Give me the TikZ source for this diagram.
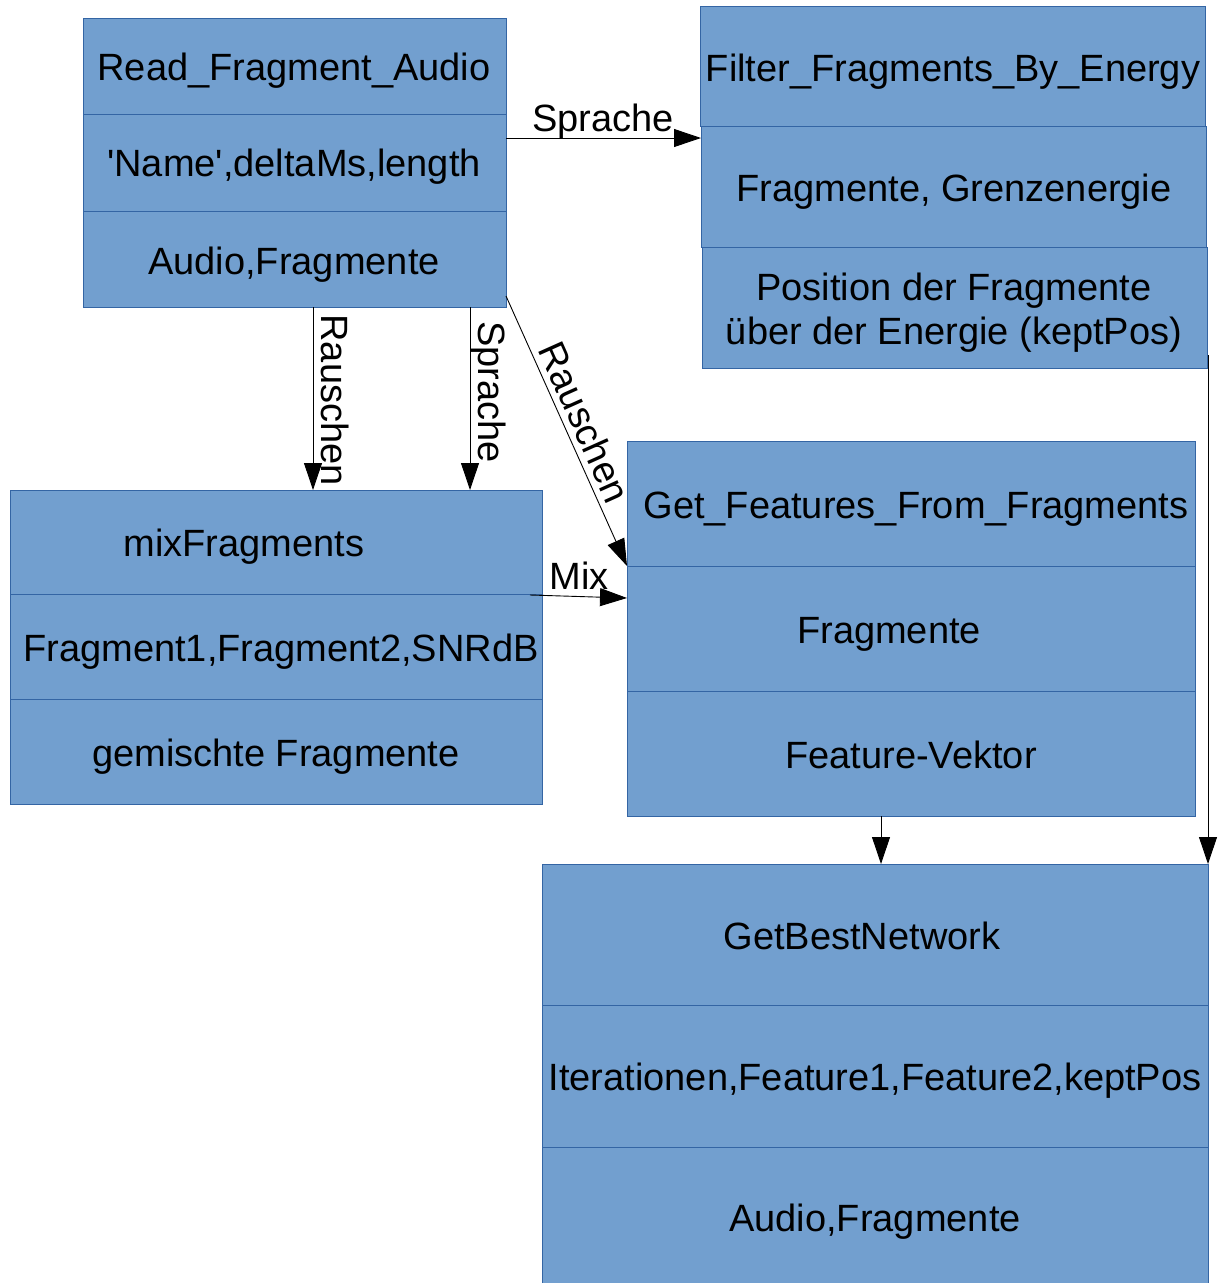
\documentclass[tikz,border=0pt]{standalone}
\usepackage{fontspec}
\setmainfont{Liberation Sans}
\usetikzlibrary{arrows.meta,calc}
\definecolor{boxfill}{HTML}{729FCF}
\definecolor{boxline}{HTML}{3465A4}
\begin{document}
\begin{tikzpicture}[x=1pt,y=-1pt,
  rowbox/.style={draw=boxline,fill=boxfill,line width=0.9pt,inner sep=0pt,outer sep=0pt,anchor=north west},
  lbl/.style={font=\fontsize{38}{44}\selectfont,inner sep=0pt,text height=27pt,text depth=0pt},
  lbltwo/.style={font=\fontsize{38}{44}\selectfont,inner sep=0pt,align=center},
  arr/.style={line width=0.9pt,-{Triangle[length=27pt,width=18pt]}}]
\useasboundingbox (0,0) rectangle (1221,1283);
\clip (0,0) rectangle (1221,1283);
% Box A
\node[rowbox,minimum width=423,minimum height=96] (a1) at (83,18) {};
\node[rowbox,minimum width=423,minimum height=97] (a2) at (83,114) {};
\node[rowbox,minimum width=423,minimum height=96] (a3) at (83,211) {};
% Box B
\node[rowbox,minimum width=505,minimum height=120] (b1) at (700,6) {};
\node[rowbox,minimum width=505,minimum height=121] (b2) at (701,126) {};
\node[rowbox,minimum width=505,minimum height=121] (b3) at (702,247) {};
% Box C
\node[rowbox,minimum width=532,minimum height=104] (c1) at (10,490) {};
\node[rowbox,minimum width=532,minimum height=105] (c2) at (10,594) {};
\node[rowbox,minimum width=532,minimum height=105] (c3) at (10,699) {};
% Box D
\node[rowbox,minimum width=568,minimum height=125] (d1) at (627,441) {};
\node[rowbox,minimum width=568,minimum height=125] (d2) at (627,566) {};
\node[rowbox,minimum width=568,minimum height=125] (d3) at (627,691) {};
% Box E
\node[rowbox,minimum width=666,minimum height=141] (e1) at (542,864) {};
\node[rowbox,minimum width=666,minimum height=142] (e2) at (542,1005) {};
\node[rowbox,minimum width=666,minimum height=145] (e3) at (542,1147) {};
% texts
\node[lbl] (ta1) at (294,67) {Read\_Fragment\_Audio};
\node[lbl] (ta2) at (294,163) {\textquotesingle Name\textquotesingle,deltaMs,length};
\node[lbl] (ta3) at (294,261) {Audio,Fragmente};
\node[lbl] (tb1) at (953,68) {Filter\_Fragments\_By\_Energy};
\node[lbl] (tb2) at (954,188) {Fragmente, Grenzenergie};
\node[lbltwo] (tb3) at (954,313) {Position der Fragmente\\über der Energie (keptPos)};
\node[lbl] (tc1) at (244,543) {mixFragments};
\node[lbl] (tc2) at (281,648) {Fragment1,Fragment2,SNRdB};
\node[lbl] (tc3) at (276,753) {gemischte Fragmente};
\node[lbl] (td1) at (916,505) {Get\_Features\_From\_Fragments};
\node[lbl] (td2) at (889,630) {Fragmente};
\node[lbl] (td3) at (911,755) {Feature-Vektor};
\node[lbl] (te1) at (862,936) {GetBestNetwork};
\node[lbl] (te2) at (875,1077) {Iterationen,Feature1,Feature2,keptPos};
\node[lbl] (te3) at (875,1218) {Audio,Fragmente};
% connectors
\coordinate (s1) at ($(a2.north east)+(0,24)$);
\draw[arr] (s1) -- (s1 -| b2.west);
\node[lbl] (ls1) at (603,118) {Sprache};
\coordinate (r1) at ($(a3.south west)+(230,0)$);
\draw[arr] (r1) -- (r1 |- c1.north);
\node[lbl,rotate=-90] (lr1) at (335,400) {Rauschen};
\coordinate (s2) at ($(a3.south west)+(387,0)$);
\draw[arr] (s2) -- (s2 |- c1.north);
\node[lbl,rotate=-90] (ls2) at (492,392) {Sprache};
\coordinate (r2) at ($(a3.south east)+(0,-11)$);
\draw[arr] (r2) -- (d2.north west);
\node[lbl,rotate=-65.9] (lr2) at (585,422) {Rauschen};
\coordinate (m1) at ($(c2.north east)+(-12,1)$);
\draw[arr] (m1) -- ($(d2.north west)+(0,32)$);
\node[lbl] (lm) at (579,576) {Mix};
\coordinate (f1) at ($(d3.south west)+(254,0)$);
\draw[arr] (f1) -- (f1 |- e1.north);
\coordinate (k1) at ($(e1.north east |- b3.south east)+(0,-13)$);
\draw[arr] (k1) -- (e1.north east);
\end{tikzpicture}
\end{document}
